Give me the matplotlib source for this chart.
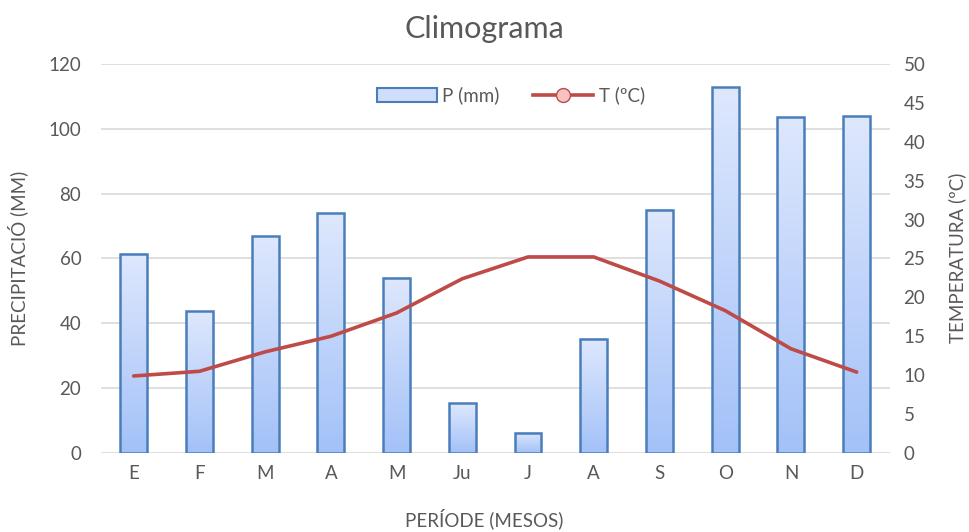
import numpy as np
import matplotlib
matplotlib.use("Agg")
import matplotlib.pyplot as plt
from matplotlib.colors import LinearSegmentedColormap
from matplotlib.patches import Rectangle, Patch
from matplotlib.lines import Line2D

months = ["E", "F", "M", "A", "M", "Ju", "J", "A", "S", "O", "N", "D"]
precip = [61.4, 43.8, 66.9, 74.0, 54.0, 15.4, 6.2, 35.2, 75.0, 112.9, 103.6, 103.9]
temp = [9.9, 10.5, 13.0, 15.0, 18.0, 22.4, 25.2, 25.2, 22.1, 18.3, 13.4, 10.4]

plt.rcParams['font.family'] = ['Lato', 'DejaVu Sans']
gray = '#595959'

fig = plt.figure(figsize=(9.69, 5.32), dpi=100)
ax = fig.add_axes([0.104, 0.1485, 0.814, 0.7312])
ax2 = ax.twinx()

x = np.arange(len(months))
w = 0.41
cmap = LinearSegmentedColormap.from_list('g', ['#A3C1F8', '#DEE8FD'])
grad = np.linspace(0, 1, 256).reshape(-1, 1)
for xi, h in zip(x, precip):
    ax.imshow(grad, cmap=cmap, origin='lower', aspect='auto',
              extent=[xi - w / 2, xi + w / 2, 0, h], zorder=2, interpolation='bilinear')
    ax.add_patch(Rectangle((xi - w / 2, 0), w, h, fill=False, edgecolor='#4A7EBB', lw=1.8, zorder=3))

ax.set_xlim(-0.5, len(months) - 0.5)
ax.set_ylim(0, 120)
ax.set_yticks(np.arange(0, 121, 20))
ax.set_xticks(x)
ax.set_xticklabels(months)
ax.grid(axis='y', color='#D9D9D9', lw=1.2, zorder=0)
ax.set_axisbelow(True)
for s in ax.spines.values():
    s.set_visible(False)
for s in ax2.spines.values():
    s.set_visible(False)
ax.tick_params(axis='both', length=0, colors=gray, labelsize=13.5, pad=9)
ax.tick_params(axis='y', pad=14)

ax2.plot(x, temp, color='#BE4B48', lw=2.6, zorder=4, solid_capstyle='round')
ax2.set_ylim(0, 50)
ax2.set_yticks(np.arange(0, 51, 5))
ax2.tick_params(axis='y', length=0, colors=gray, labelsize=13.5, pad=10)

fig.text(18 / 969, 1 - 258 / 532, 'PRECIPITACIÓ (MM)', rotation=90, ha='center', va='center',
         color=gray, fontsize=13.5)
fig.text(957 / 969, 1 - 258 / 532, 'TEMPERATURA (ºC)', rotation=90, ha='center', va='center',
         color=gray, fontsize=13.5)
fig.text(0.5, 1 - 519 / 532, 'PERÍODE (MESOS)', ha='center', va='center', color=gray, fontsize=13.5)
fig.text(0.5, 0.945, 'Climograma', ha='center', va='center', fontsize=22, color=gray)

h1 = Patch(facecolor='#CFDEFB', edgecolor='#4A7EBB', lw=1.5)
h2 = Line2D([], [], color='#BE4B48', lw=2.6, marker='o', markersize=10,
            markerfacecolor='#F6C3C1', markeredgecolor='#BE4B48')
leg = ax.legend([h1, h2], ['P (mm)', 'T (ºC)'], loc='upper center', bbox_to_anchor=(0.52, 0.985),
                ncol=2, frameon=False, fontsize=13.5, labelcolor=gray, handlelength=3.2,
                columnspacing=1.8, handletextpad=0.3)
leg.set_zorder(10)

fig.savefig('out.png', dpi=100)
